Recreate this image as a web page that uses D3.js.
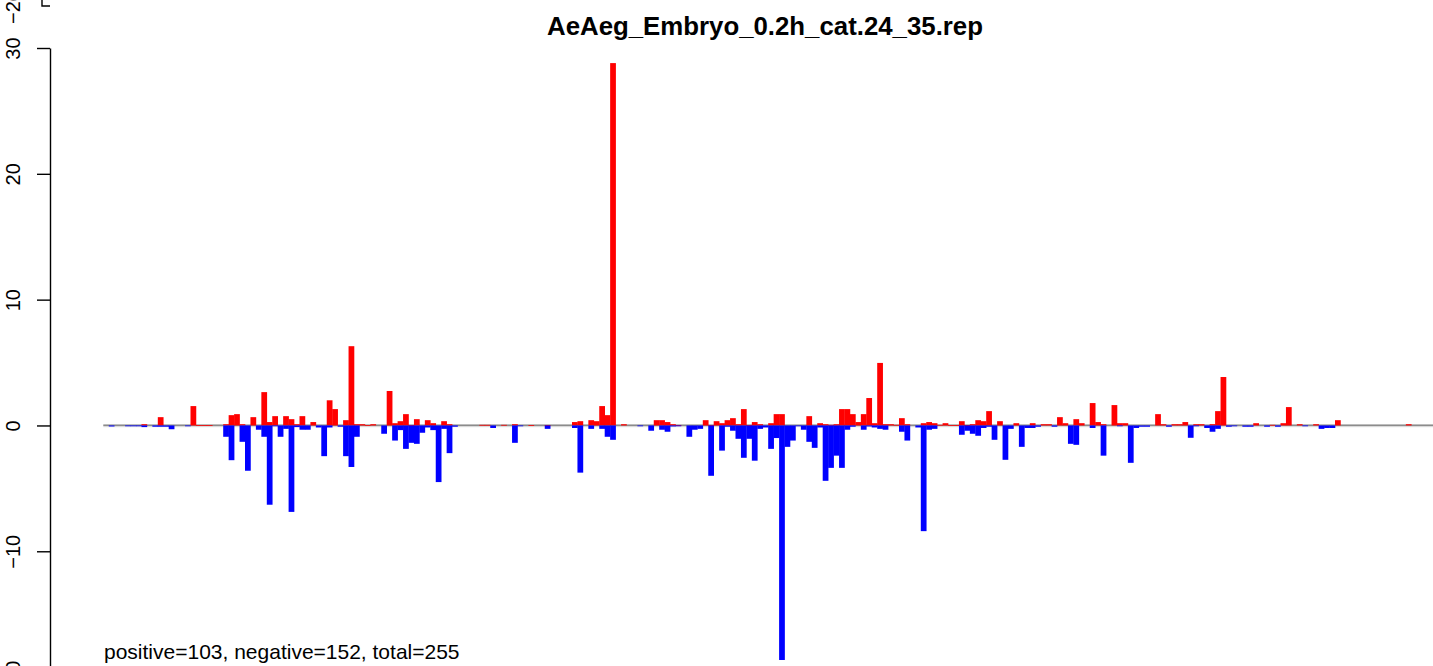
<!DOCTYPE html>
<html>
<head>
<meta charset="utf-8">
<script src="https://cdn.jsdelivr.net/npm/d3@7"></script>
<style>
  html, body { margin: 0; padding: 0; background: #fff; }
  svg { display: block; font-family: "Liberation Sans", Arial, Helvetica, sans-serif; }
</style>
</head>
<body>
<svg id="chart" width="1433" height="666"></svg>
<script>
const title = "AeAeg_Embryo_0.2h_cat.24_35.rep";
const footnote = "positive=103, negative=152, total=255";
const yTicks = [30, 20, 10, 0, -10, -20];

// positive (red) sums per bin
const positive = [
  0,0,0,0,0,0,0,0.1,0,0,
  0.66,0,0,0,0,0,1.54,0.02,0.02,0.02,
  0,0,0.1,0.82,0.9,0.1,0,0.66,0,2.65,
  0.27,0.74,0,0.74,0.5,0.1,0.74,0,0.27,0,
  0,2.0,1.3,0,0.42,6.3,0.1,0.1,0.02,0.1,
  0,0,2.74,0.18,0.34,0.9,0.03,0.5,0,0.42,
  0.18,0,0.34,0.1,0,0,0,0,0,0.05,
  0.05,0,0,0.05,0,0.1,0,0,0.03,0,
  0,0.03,0,0,0,0,0.27,0.34,0,0.42,
  0.34,1.54,0.82,28.8,0,0.1,0,0,0,0,
  0,0.42,0.42,0.27,0.1,0.03,0,0,0,0,
  0.42,0.03,0.34,0.18,0.42,0.58,0.1,1.3,0.03,0.27,
  0.1,0,0.18,0.9,0.9,0,0,0,0,0.74,
  0,0.18,0.1,0.05,0.1,1.3,1.3,0.9,0.27,0.9,
  2.18,0.18,4.97,0.1,0.1,0.05,0.58,0.1,0,0,
  0.18,0.27,0.18,0.05,0.18,0.03,0.03,0.34,0.03,0.1,
  0.42,0.34,1.14,0,0.34,0,0,0.18,0,0,
  0.18,0,0.1,0.1,0,0.66,0.18,0,0.5,0.18,
  0,1.78,0.27,0.1,0,1.62,0.18,0.18,0,0,
  0,0,0,0.9,0.1,0,0.1,0.1,0.27,0,
  0.1,0.1,0,0.1,1.14,3.85,0,0,0,0,
  0,0.18,0,0,0.05,0,0.18,1.46,0,0.1,
  0,0,0.1,0,0,0,0.42,0,0,0,
  0,0,0,0,0,0,0,0,0,0.1,
  0,0,0,0,0
];

// negative (blue) sums per bin
const negative = [
  0,-0.08,0,0,-0.05,-0.05,-0.05,-0.13,0,-0.1,
  -0.1,-0.1,-0.3,0,0,-0.05,0,0,0,0,
  0,0,-0.9,-2.76,0,-1.3,-3.6,0,-0.34,-0.9,
  -6.3,-0.05,-0.9,-0.27,-6.87,-0.13,-0.34,-0.34,0,-0.16,
  -2.44,-0.16,0,-0.1,-2.44,-3.3,-0.9,0,0,0,
  0,-0.66,0,-1.2,-0.37,-1.86,-1.38,-1.46,-0.58,-0.16,
  -0.37,-4.5,-0.27,-2.2,-0.1,0,0,0,0,0,
  0,-0.2,0,0,0,-1.38,-0.05,0,0,0,
  0,-0.27,0,0,0,0,-0.2,-3.75,0,-0.27,
  0,-0.27,-0.9,-1.14,0,0,0,0,-0.05,0,
  -0.42,0,-0.34,-0.5,-0.08,-0.05,0,-0.9,-0.34,-0.27,
  0,-4.0,0,-2.0,-0.1,-0.42,-1.06,-2.57,-1.06,-2.8,
  -0.27,-0.16,-1.86,-1.0,-18.64,-1.7,-1.2,-0.05,-0.34,-1.3,
  -1.78,-0.16,-4.4,-3.37,-2.4,-3.37,-0.34,-0.1,0,-0.34,
  -0.08,-0.16,-0.27,-0.34,0,0,-0.5,-1.2,0,-0.16,
  -8.4,-0.34,-0.27,0,0,0,0,-0.74,-0.42,-0.66,
  -0.82,-0.2,-0.1,-1.14,0,-2.73,-0.27,0,-1.7,-0.2,
  -0.2,-0.1,0,0,-0.1,0,0,-1.46,-1.54,0,
  0,-0.2,0,-2.4,0,0,-0.05,0,-2.97,-0.2,
  -0.1,-0.1,0,0,0,-0.1,0,0,0,-0.98,
  -0.05,0,-0.2,-0.5,-0.27,0,-0.1,-0.05,0,-0.1,
  -0.1,0,0,-0.1,0,-0.1,0,0,0,0,
  -0.05,0,0,-0.27,-0.2,-0.2,0,0,0,0,
  0,0,0,0,0,0,0,0,0,0,
  0,0,0,0,0
];

const N = positive.length;
const svg = d3.select("#chart");

const x = d3.scaleLinear().domain([0, N]).range([103.3, 103.3 + N * 5.45]);
const y = d3.scaleLinear().domain([-20, 30]).range([677.1, 48]);

// baseline
svg.append("rect").attr("x", x(0)).attr("y", y(0) - 0.9).attr("width", 1433 - x(0)).attr("height", 1.3).attr("fill", "#6b6b6b");
svg.append("rect").attr("x", x(0)).attr("y", y(0) + 0.4).attr("width", 1433 - x(0)).attr("height", 1.3).attr("fill", "#d9d9d9");

const bw = x(1) - x(0);
svg.append("g").selectAll("rect").data(positive).join("rect")
  .filter(d => d !== 0)
  .attr("x", (d, i, nodes) => 0);

// draw red bars
svg.append("g").attr("class", "pos").selectAll("rect")
  .data(positive.map((v, i) => ({i, v})).filter(d => d.v !== 0))
  .join("rect")
  .attr("x", d => x(d.i))
  .attr("width", bw + 0.3)
  .attr("y", d => y(d.v))
  .attr("height", d => Math.max(y(0) - y(d.v), 0.8))
  .attr("fill", "#ff0000");

// draw blue bars
svg.append("g").attr("class", "neg").selectAll("rect")
  .data(negative.map((v, i) => ({i, v})).filter(d => d.v !== 0))
  .join("rect")
  .attr("x", d => x(d.i))
  .attr("width", bw + 0.3)
  .attr("y", y(0))
  .attr("height", d => Math.max(y(d.v) - y(0), 0.8))
  .attr("fill", "#0000ff");

// y axis
const axis = d3.axisLeft(y).tickValues(yTicks).tickSize(13).tickSizeOuter(0)
  .tickFormat(d => d3.format("d")(d).replace("-", "\u2212"));
const gA = svg.append("g").attr("transform", "translate(50,0)").call(axis);
gA.select(".domain").attr("stroke", "#000").attr("stroke-width", 1.4);
gA.selectAll(".tick line").attr("stroke", "#000").attr("stroke-width", 1.4);
gA.selectAll(".tick text")
  .attr("x", null).attr("dy", null)
  .attr("transform", "translate(-30,0) rotate(-90)")
  .attr("text-anchor", "middle")
  .attr("font-size", 20)
  .attr("font-family", "Liberation Sans, Arial, sans-serif")
  .attr("fill", "#000");

// remnant of the panel above
svg.append("text").attr("transform", "translate(20,7) rotate(-90)")
  .attr("text-anchor", "middle").attr("font-size", 20).text("\u221220");
svg.append("path").attr("d", "M42,0V6H50").attr("fill", "none").attr("stroke", "#000").attr("stroke-width", 1.4);

// title
svg.append("text").attr("x", 765).attr("y", 35).attr("text-anchor", "middle")
  .attr("font-size", 25.8).attr("font-weight", "bold").text(title);

// footnote
svg.append("text").attr("x", 104).attr("y", 659).attr("font-size", 21).text(footnote);
</script>
</body>
</html>
